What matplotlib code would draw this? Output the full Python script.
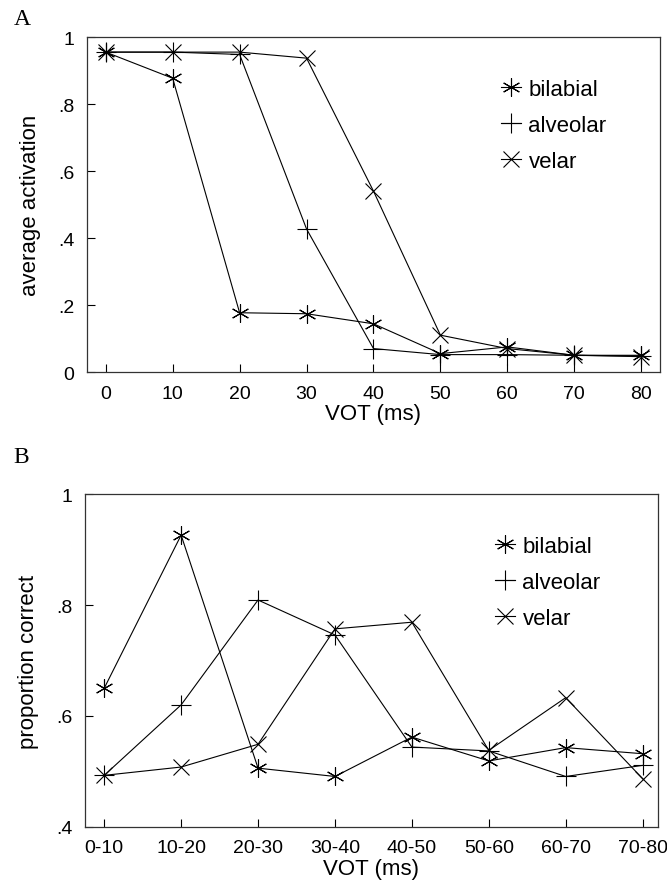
import matplotlib
matplotlib.use("Agg")
import matplotlib.pyplot as plt
from matplotlib.ticker import FixedLocator, FuncFormatter

plt.rcParams["font.family"] = ["Liberation Sans", "DejaVu Sans"]

# panel A: average activation by VOT
vot = [0, 10, 20, 30, 40, 50, 60, 70, 80]
act_bilabial = [0.955, 0.877, 0.177, 0.174, 0.144, 0.055, 0.075, 0.05, 0.05]
act_alveolar = [0.955, 0.955, 0.948, 0.427, 0.07, 0.052, 0.052, 0.05, 0.048]
act_velar = [0.955, 0.955, 0.955, 0.937, 0.54, 0.11, 0.07, 0.05, 0.046]

# panel B: proportion correct by VOT bin
bins = ["0-10", "10-20", "20-30", "30-40", "40-50", "50-60", "60-70", "70-80"]
pc_bilabial = [0.65, 0.926, 0.506, 0.491, 0.562, 0.519, 0.543, 0.532]
pc_alveolar = [0.493, 0.62, 0.809, 0.746, 0.544, 0.537, 0.491, 0.511]
pc_velar = [0.493, 0.508, 0.549, 0.757, 0.769, 0.538, 0.633, 0.487]

labels = ["bilabial", "alveolar", "velar"]
markers = [(6, 2, 0), "+", "x"]
msizes = [13, 14, 12]

TICK_FS = 14
LAB_FS = 16


def no_zero(v, pos):
    if abs(v - 1) < 1e-9:
        return "1"
    if abs(v) < 1e-9:
        return "0"
    return ("%.1f" % v).lstrip("0")


def style_axes(ax):
    for s in ax.spines.values():
        s.set_linewidth(0.9)
        s.set_color("#333333")
    ax.tick_params(direction="in", length=6, width=0.8, labelsize=TICK_FS,
                   top=False, right=False, pad=9)


def draw_panel(ax, x, series, legend_anchor):
    for y, lab, m, ms in zip(series, labels, markers, msizes):
        ax.plot(x, y, color="black", linewidth=0.8, marker=m, markersize=ms,
                markeredgewidth=0.8, label=lab)
    ax.legend(loc="upper left", bbox_to_anchor=legend_anchor, frameon=False,
              fontsize=LAB_FS, handlelength=0.9, handletextpad=0.35,
              labelspacing=0.68, borderpad=0, borderaxespad=0, numpoints=1)
    style_axes(ax)


fig = plt.figure(figsize=(6.67, 8.95), dpi=100)

axA = fig.add_axes([0.1304, 0.5832, 0.8591, 0.3743])
draw_panel(axA, vot, [act_bilabial, act_alveolar, act_velar], (0.722, 0.875))
axA.set_xlim(-2.8, 82.8)
axA.set_ylim(0, 1)
axA.set_xticks(vot)
axA.yaxis.set_major_locator(FixedLocator([0, 0.2, 0.4, 0.6, 0.8, 1.0]))
axA.yaxis.set_major_formatter(FuncFormatter(no_zero))
axA.set_xlabel("VOT (ms)", fontsize=LAB_FS, labelpad=1)
axA.set_ylabel("average activation", fontsize=LAB_FS, labelpad=12)
fig.text(0.02, 0.978, "A", family="Liberation Serif", fontsize=17, va="center")

axB = fig.add_axes([0.1274, 0.0749, 0.8591, 0.372])
xb = list(range(len(bins)))
draw_panel(axB, xb, [pc_bilabial, pc_alveolar, pc_velar], (0.715, 0.875))
axB.set_xlim(-0.25, 7.2)
axB.set_ylim(0.4, 1)
axB.set_xticks(xb)
axB.set_xticklabels(bins)
axB.yaxis.set_major_locator(FixedLocator([0.4, 0.6, 0.8, 1.0]))
axB.yaxis.set_major_formatter(FuncFormatter(no_zero))
axB.set_xlabel("VOT (ms)", fontsize=LAB_FS, labelpad=1)
axB.set_ylabel("proportion correct", fontsize=LAB_FS, labelpad=12)
fig.text(0.02, 0.489, "B", family="Liberation Serif", fontsize=17, va="center")

fig.savefig("out.png", dpi=100)
